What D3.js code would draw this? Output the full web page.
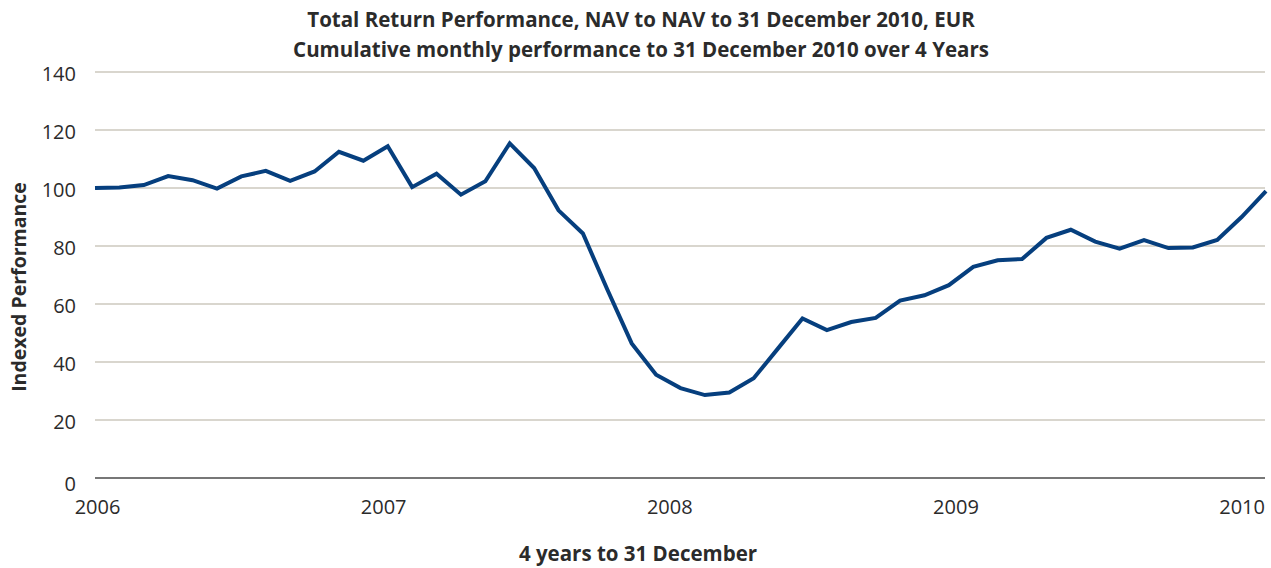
<!DOCTYPE html>
<html>
<head>
<meta charset="utf-8">
<script src="https://cdn.jsdelivr.net/npm/d3@7"></script>
<style>
  html, body { margin: 0; padding: 0; background: #ffffff; }
  svg { display: block; }
  text { font-family: "Open Sans", "Noto Sans", sans-serif; }
</style>
</head>
<body>
<svg id="chart" width="1271" height="568"></svg>
<script>
// Monthly index values, NAV to NAV, end of Dec 2006 ... end of Dec 2010 (start = 100)
const months = d3.range(49);
const navIndex = [
  100.0, 100.2, 101.0, 104.1, 102.7, 99.8, 104.0, 105.9, 102.5, 105.7, 112.5, 109.4,
  114.4, 100.3, 104.9, 97.7, 102.3, 115.4, 106.9, 92.3, 84.3, 65.0, 46.4, 35.6,
  31.0, 28.6, 29.5, 34.4, 44.7, 55.0, 51.0, 53.8, 55.2, 61.2, 63.0, 66.5,
  72.8, 75.1, 75.5, 82.8, 85.6, 81.5, 79.1, 82.0, 79.3, 79.5, 82.1, 90.0,
  98.9
];
const yearLabels = ["2006", "2007", "2008", "2009", "2010"];
const yTicks = [0, 20, 40, 60, 80, 100, 120, 140];

const titleLines = [
  "Total Return Performance, NAV to NAV to 31 December 2010, EUR",
  "Cumulative monthly performance to 31 December 2010 over 4 Years"
];
const yTitle = "Indexed Performance";
const xTitle = "4 years to 31 December";

const W = 1271, H = 568;
const margin = { top: 72, right: 5, bottom: 90, left: 95 };
const fontStack = "'Open Sans', 'Noto Sans', sans-serif";
const textColor = "#2b2b2b";

const svg = d3.select("#chart");

const x = d3.scaleLinear()
  .domain([0, months.length - 1])
  .range([margin.left, W - margin.right]);

const y = d3.scaleLinear()
  .domain([0, 140])
  .range([H - margin.bottom, margin.top]);

// Year labels spread evenly along the category axis
const xLabel = d3.scalePoint()
  .domain(yearLabels)
  .range([x(0) + 2, x(months.length - 2)]);

// Horizontal gridlines
svg.append("g")
  .selectAll("line")
  .data(yTicks.filter(d => d !== 0))
  .join("line")
  .attr("x1", x(0))
  .attr("x2", x.range()[1] - 1)
  .attr("y1", d => y(d))
  .attr("y2", d => y(d))
  .attr("stroke", "#cdc8be")
  .attr("stroke-width", 1.5);

// Y axis labels
const yAxis = svg.append("g")
  .attr("transform", `translate(${x(0)},0)`)
  .call(d3.axisLeft(y).tickValues(yTicks).tickSize(0).tickPadding(19).tickFormat(d3.format("d")));
yAxis.select(".domain").remove();
yAxis.selectAll("text")
  .attr("font-size", 20)
  .attr("fill", textColor)
  .attr("font-family", fontStack);
yAxis.selectAll(".tick text").attr("dy", d => d === 0 ? "0.6em" : "0.4em");

// Baseline at zero
svg.append("line")
  .attr("x1", x(0))
  .attr("x2", x.range()[1] - 1)
  .attr("y1", y(0))
  .attr("y2", y(0))
  .attr("stroke", "#4a4a4a")
  .attr("stroke-width", 1.6);

// X axis year labels
const xAxis = svg.append("g")
  .attr("transform", `translate(0,${y(0)})`)
  .call(d3.axisBottom(xLabel).tickSize(0).tickPadding(22));
xAxis.select(".domain").remove();
xAxis.selectAll("text")
  .attr("font-size", 20)
  .attr("fill", textColor)
  .attr("font-family", fontStack);

// Performance line
const line = d3.line()
  .x((d, i) => x(months[i]))
  .y(d => y(d));

svg.append("path")
  .datum(navIndex)
  .attr("d", line)
  .attr("fill", "none")
  .attr("stroke", "#063f7e")
  .attr("stroke-width", 4)
  .attr("stroke-linejoin", "miter");

// Titles
svg.append("g")
  .selectAll("text")
  .data(titleLines)
  .join("text")
  .attr("x", 641)
  .attr("y", (d, i) => 27 + i * 30)
  .attr("text-anchor", "middle")
  .attr("font-size", 20.5)
  .attr("font-weight", "bold")
  .attr("fill", textColor)
  .text(d => d);

svg.append("text")
  .attr("transform", `translate(26,${(y(0) + y(140)) / 2 + 12}) rotate(-90)`)
  .attr("text-anchor", "middle")
  .attr("font-size", 19.5)
  .attr("font-weight", "bold")
  .attr("fill", textColor)
  .text(yTitle);

svg.append("text")
  .attr("x", 638)
  .attr("y", 561)
  .attr("text-anchor", "middle")
  .attr("font-size", 20.5)
  .attr("font-weight", "bold")
  .attr("fill", textColor)
  .text(xTitle);
</script>
</body>
</html>
